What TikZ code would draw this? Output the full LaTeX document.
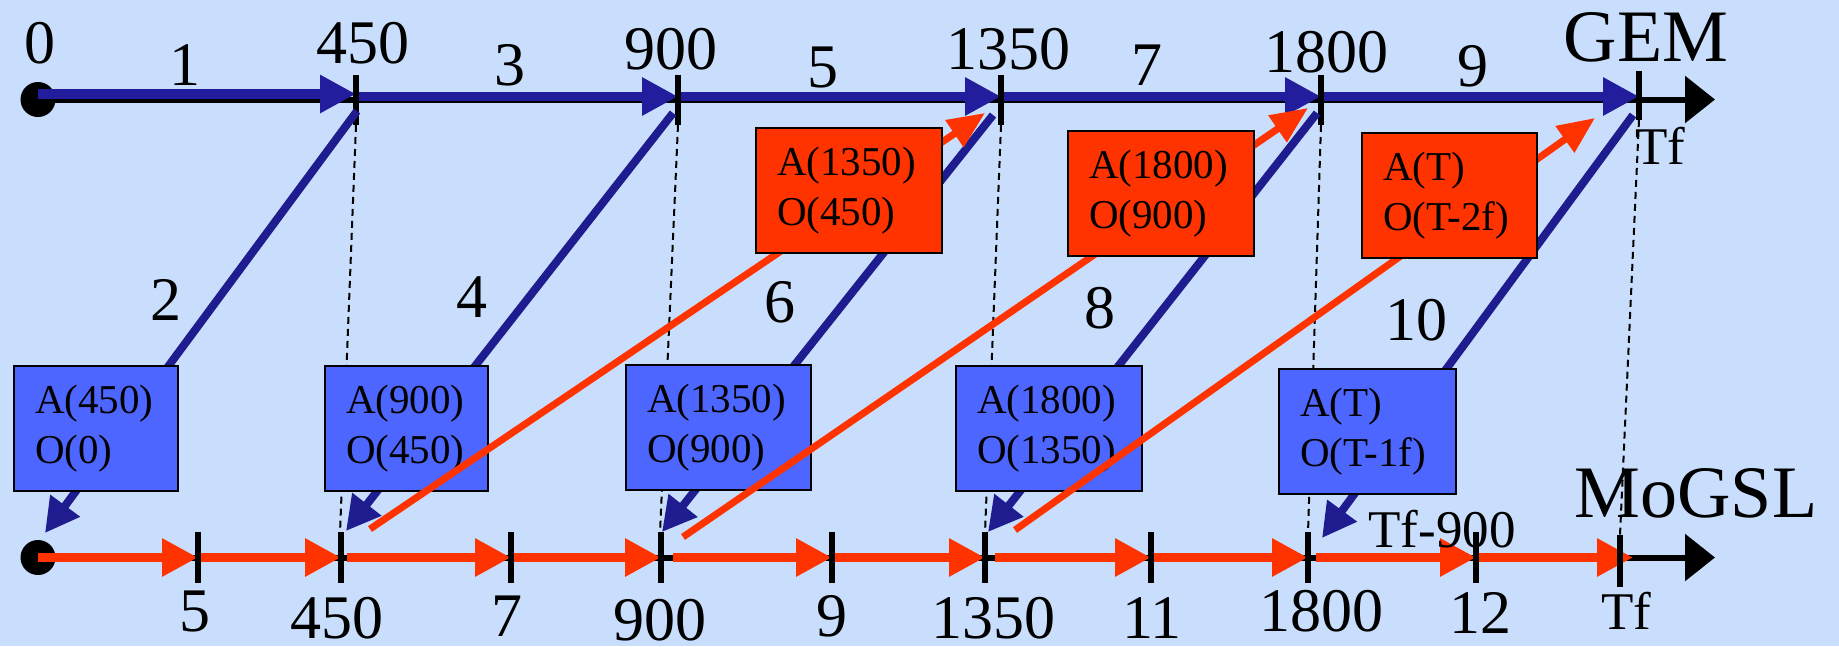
\documentclass[tikz,border=0pt]{standalone}
\usepackage{fontspec}
\setmainfont{Liberation Serif}
\usetikzlibrary{arrows.meta}
\definecolor{bgc}{HTML}{C9DEFC}
\definecolor{navy}{HTML}{211D9C}
\definecolor{navyd}{HTML}{1E1C8E}
\definecolor{boxblue}{HTML}{4D66FF}
\definecolor{redc}{HTML}{FF3300}
\begin{document}
\begin{tikzpicture}[x=1pt,y=-1pt,
  lab/.style={font=\fontsize{62}{70}\selectfont, anchor=base, inner sep=0pt},
  biglab/.style={font=\fontsize{74}{80}\selectfont, anchor=base, inner sep=0pt},
  smlab/.style={font=\fontsize{53}{60}\selectfont, anchor=base, inner sep=0pt},
  boxbase/.style={draw=black, line width=2pt, anchor=north west, inner xsep=21pt, inner ysep=0pt, align=left, font=\fontsize{41}{50}\selectfont, minimum height=125pt},
  bbox/.style={boxbase, fill=boxblue, text width=#1},
  rbox/.style={boxbase, fill=redc, text width=#1},
  axisline/.style={line width=6pt, black, -{Triangle[length=30pt,width=46pt]}},
  toparr/.style={line width=9.5pt, navy, -{Triangle[length=36pt,width=36pt]}},
  botarr/.style={line width=9pt, redc, -{Triangle[length=36pt,width=36pt]}},
  diag/.style={line width=8pt, navyd, -{Triangle[length=34pt,width=35pt]}},
  rdiag/.style={line width=7pt, redc, -{Triangle[length=37pt,width=31pt]}},
  tickmark/.style={line width=5.5pt, black},
  guideline/.style={line width=2pt, black, dash pattern=on 7pt off 5pt},
  dotnode/.style={circle, fill=black, minimum size=35pt, inner sep=0pt}
]
\fill[bgc] (0,0) rectangle (1839,646);
\useasboundingbox (0,0) rectangle (1839,646);

% ---------- coordinates ----------
% top axis (GEM)
\coordinate (G0) at (38,94);
\coordinate (G1a) at (356,94);
\coordinate (G1) at (356,96.5);
\coordinate (G2) at (678,96.5);
\coordinate (G3) at (1001,96.5);
\coordinate (G4) at (1321,96.5);
\coordinate (G5) at (1639,96.5);
\coordinate (GA) at (38,99.5);
\coordinate (GE) at (1715,99.5);
% bottom axis (MoGSL)
\coordinate (M0) at (38,557.5);
\coordinate (M1) at (198,557.5);
\coordinate (M2) at (341,557.5);
\coordinate (M3) at (511,557.5);
\coordinate (M4) at (661,557.5);
\coordinate (M5) at (832,557.5);
\coordinate (M6) at (985,557.5);
\coordinate (M7) at (1151,557.5);
\coordinate (M8) at (1308,557.5);
\coordinate (M9) at (1476,557.5);
\coordinate (M10) at (1633,557.5);
\coordinate (M2s) at (347,557.5);
\coordinate (M4s) at (673,557.5);
\coordinate (M6s) at (995,557.5);
\coordinate (M8s) at (1316,557.5);
\coordinate (MA) at (38,557.5);
\coordinate (ME) at (1715,557.5);
% dashed guides
\coordinate (gu1) at (356,125); \coordinate (gl1) at (340,533);
\coordinate (gu2) at (678,125); \coordinate (gl2) at (660,533);
\coordinate (gu3) at (1001,125); \coordinate (gl3) at (985,533);
\coordinate (gu4) at (1321,125); \coordinate (gl4) at (1308,533);
\coordinate (gu5) at (1639,120); \coordinate (gl5) at (1620,535);
% blue diagonals
\coordinate (P1) at (357,111); \coordinate (Q1) at (45,533);
\coordinate (P2) at (673,113); \coordinate (Q2) at (346,531);
\coordinate (P3) at (993,115); \coordinate (Q3) at (662,532);
\coordinate (P4) at (1317,113); \coordinate (Q4) at (988,532);
\coordinate (P5) at (1633,115); \coordinate (Q5) at (1322,538);
% red diagonals
\coordinate (S1) at (370,529); \coordinate (U1) at (985,113);
\coordinate (S2) at (683,537); \coordinate (U2) at (1308,108);
\coordinate (S3) at (1015,530); \coordinate (U3) at (1595,118);

% ---------- dashed guides ----------
\foreach \i in {1,...,5} { \draw[guideline] (gu\i) -- (gl\i); }

% ---------- axes ----------
\draw[axisline] (GA) -- (GE);
\draw[axisline] (MA) -- (ME);
\node[dotnode] (dotG) at (GA) {};
\node[dotnode] (dotM) at (MA) {};

% top blue arrows
\draw[toparr] (G0) -- (G1a);
\draw[toparr] (G1) -- (G2);
\draw[toparr] (G2) -- (G3);
\draw[toparr] (G3) -- (G4);
\draw[toparr] (G4) -- (G5);

% bottom red arrows
\draw[botarr] (M0) -- (M1);
\draw[botarr] (M1) -- (M2);
\draw[botarr] (M2s) -- (M3);
\draw[botarr] (M3) -- (M4);
\draw[botarr] (M4s) -- (M5);
\draw[botarr] (M5) -- (M6);
\draw[botarr] (M6s) -- (M7);
\draw[botarr] (M7) -- (M8);
\draw[botarr] (M8s) -- (M9);
\draw[botarr] (M9) -- (M10);

% ticks
\foreach \x in {356,678,1001,1321} { \draw[tickmark] (\x,75) -- (\x,125); }
\draw[tickmark] (1639,71) -- (1639,120);
\foreach \x in {198,341,511,661,832,985,1151,1308,1476} { \draw[tickmark] (\x,532) -- (\x,583); }
\draw[tickmark] (1620,535) -- (1620,587);

% ---------- blue diagonals ----------
\draw[diag] (P1) -- (Q1);
\draw[diag] (P2) -- (Q2);
\draw[diag] (P3) -- (Q3);
\draw[diag] (P4) -- (Q4);
\draw[diag] (P5) -- (Q5);

% ---------- blue boxes ----------
\node[bbox=122pt] (B1) at (13,365) {A(450)\\O(0)};
\node[bbox=121pt] (B2) at (324,365) {A(900)\\O(450)};
\node[bbox=143pt] (B3) at (625,364) {A(1350)\\O(900)};
\node[bbox=144pt] (B4) at (955,365) {A(1800)\\O(1350)};
\node[bbox=135pt] (B5) at (1278,368) {A(T)\\O(T-1f)};

% ---------- red diagonals ----------
\draw[rdiag] (S1) -- (U1);
\draw[rdiag] (S2) -- (U2);
\draw[rdiag] (S3) -- (U3);

% ---------- red boxes ----------
\node[rbox=144pt] (R1) at (755,127) {A(1350)\\O(450)};
\node[rbox=144pt] (R2) at (1067,130) {A(1800)\\O(900)};
\node[rbox=133pt] (R3) at (1361,132) {A(T)\\O(T-2f)};

% ---------- labels ----------
\node[lab] (l0) at (40,63) {0};
\node[lab] (l1) at (185,85) {1};
\node[lab] (l450) at (363,63) {450};
\node[lab] (l3) at (510,85) {3};
\node[lab] (l900) at (671,69) {900};
\node[lab] (l5) at (823,87) {5};
\node[lab] (l1350) at (1008,69) {1350};
\node[lab] (l7) at (1147,85) {7};
\node[lab] (l1800) at (1326,72) {1800};
\node[lab] (l9) at (1473,86) {9};
\node[biglab] (gem) at (1646,61) {GEM};
\node[smlab] (tfg) at (1660,164) {Tf};

\node[lab] (d2) at (166,320) {2};
\node[lab] (d4) at (472,317) {4};
\node[lab] (d6) at (780,322) {6};
\node[lab] (d8) at (1100,328) {8};
\node[lab] (d10) at (1416,340) {10};

\node[lab] (b5) at (195,631) {5};
\node[lab] (b450) at (337,638) {450};
\node[lab] (b7) at (507,636) {7};
\node[lab] (b900) at (660,640) {900};
\node[lab] (b9) at (832,636) {9};
\node[lab] (b1350) at (993,638) {1350};
\node[lab] (b11) at (1152,638) {11};
\node[lab] (b1800) at (1321,631) {1800};
\node[lab] (b12) at (1480,633) {12};
\node[smlab] (tfm) at (1626,629) {Tf};
\node[biglab] (mogsl) at (1696,517) {MoGSL};
\node[smlab] (tf900) at (1442,547) {Tf-900};
\end{tikzpicture}
\end{document}
